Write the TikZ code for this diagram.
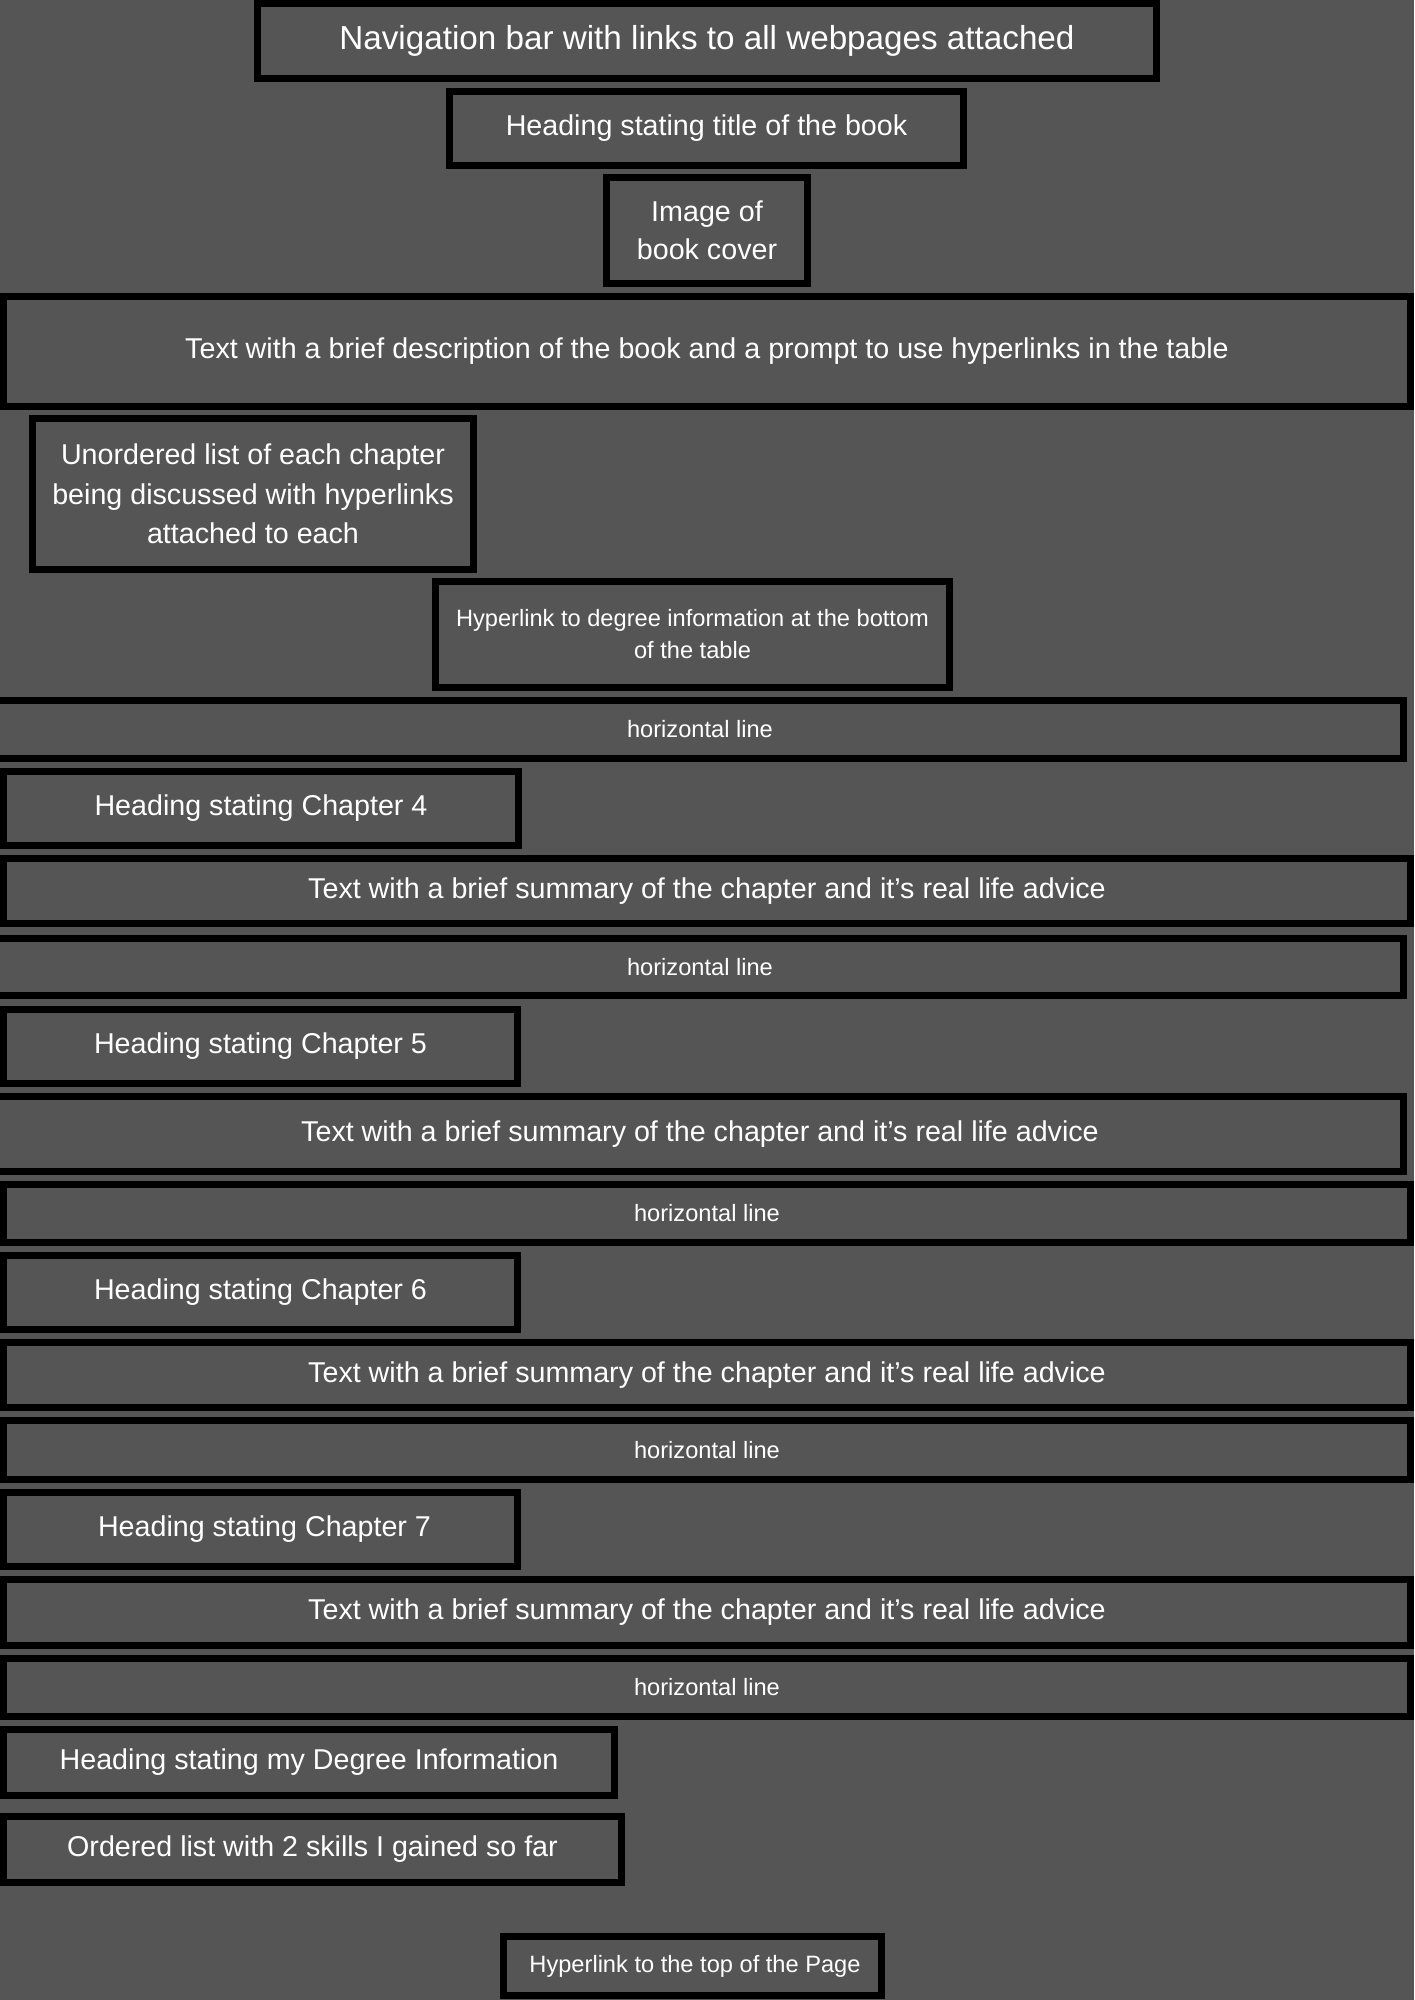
\documentclass[tikz,border=0pt]{standalone}
\usepackage{fontspec}
\setmainfont{Liberation Sans}
\definecolor{bg}{RGB}{85,85,85}
\tikzset{
  block/.style={draw=black, line width=0.07cm, fill=bg, inner sep=0pt,
    align=center, text=white, font=\fontsize{8.15}{11}\selectfont},
  bigtext/.style={font=\fontsize{9.45}{11}\selectfont},
  smalltext/.style={font=\fontsize{6.72}{9.1}\selectfont},
}
\begin{document}
\begin{tikzpicture}[x=0.01cm, y=-0.01cm]
  % page background
  \fill[bg] (0,0) rectangle (1414,2000);
  \useasboundingbox (0,0) rectangle (1414,2000);

  % header section
  \node[block, bigtext, minimum width=8.99cm, minimum height=0.75cm] (nav) at (707,41)
    {\raisebox{-0.025cm}{Navigation bar with links to all webpages attached}};
  \node[block, minimum width=5.14cm, minimum height=0.74cm] (title) at (706.5,128.5)
    {Heading stating title of the book};
  \node[block, font=\fontsize{8.15}{10.8}\selectfont, minimum width=2.01cm, minimum height=1.06cm] (cover) at (707,230.5)
    {Image of\\book cover};
  \node[block, minimum width=14.07cm, minimum height=1.10cm] (desc) at (707,351.5)
    {Text with a brief description of the book and a prompt to use hyperlinks in the table};
  \node[block, font=\fontsize{8.15}{11.2}\selectfont, minimum width=4.41cm, minimum height=1.51cm] (toc) at (253,494)
    {Unordered list of each chapter\\being discussed with hyperlinks\\attached to each};
  \node[block, smalltext, minimum width=5.14cm, minimum height=1.06cm] (deglink) at (692.5,634.5)
    {Hyperlink to degree information at the bottom\\of the table};

  % chapter 4
  \node[block, smalltext, minimum width=14.07cm, minimum height=0.58cm] (hr1) at (700,729.5) {horizontal line};
  \node[block, minimum width=5.15cm, minimum height=0.74cm] (ch4) at (261,808.5) {Heading stating Chapter 4};
  \node[block, minimum width=14.07cm, minimum height=0.65cm] (sum4) at (707,891)
    {Text with a brief summary of the chapter and it’s real life advice};

  % chapter 5
  \node[block, smalltext, minimum width=14.07cm, minimum height=0.57cm] (hr2) at (700,967) {horizontal line};
  \node[block, minimum width=5.14cm, minimum height=0.74cm] (ch5) at (260.5,1046.5) {Heading stating Chapter 5};
  \node[block, minimum width=14.07cm, minimum height=0.75cm] (sum5) at (700,1134)
    {Text with a brief summary of the chapter and it’s real life advice};

  % chapter 6
  \node[block, smalltext, minimum width=14.07cm, minimum height=0.58cm] (hr3) at (707,1213.5) {horizontal line};
  \node[block, minimum width=5.14cm, minimum height=0.74cm] (ch6) at (260.5,1292.5) {Heading stating Chapter 6};
  \node[block, minimum width=14.07cm, minimum height=0.65cm] (sum6) at (707,1375)
    {Text with a brief summary of the chapter and it’s real life advice};

  % chapter 7
  \node[block, smalltext, minimum width=14.07cm, minimum height=0.59cm] (hr4) at (707,1450) {horizontal line};
  \node[block, minimum width=5.14cm, minimum height=0.74cm] (ch7) at (260.5,1529.5) {\hspace{0.08cm}Heading stating Chapter 7};
  \node[block, minimum width=14.07cm, minimum height=0.66cm] (sum7) at (707,1612.5)
    {Text with a brief summary of the chapter and it’s real life advice};

  % degree section and footer
  \node[block, smalltext, minimum width=14.07cm, minimum height=0.58cm] (hr5) at (707,1687.5) {horizontal line};
  \node[block, minimum width=6.11cm, minimum height=0.66cm] (degree) at (309,1762.5)
    {Heading stating my Degree Information};
  \node[block, minimum width=6.18cm, minimum height=0.66cm] (skills) at (312.5,1849.5)
    {Ordered list with 2 skills I gained so far};
  \node[block, smalltext, minimum width=3.78cm, minimum height=0.59cm] (toplink) at (692.5,1966)
    {\hspace{0.05cm}Hyperlink to the top of the Page};
\end{tikzpicture}
\end{document}
